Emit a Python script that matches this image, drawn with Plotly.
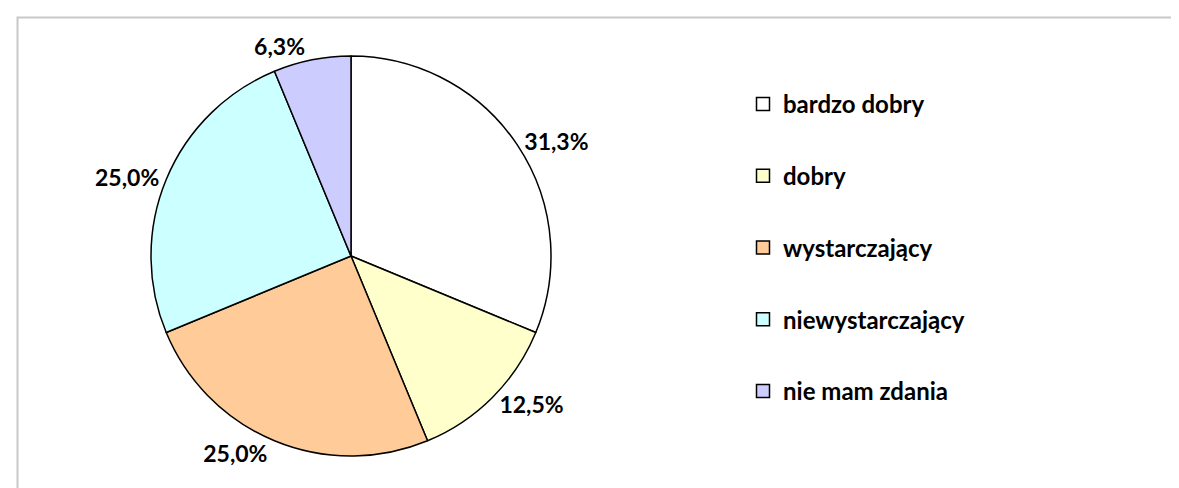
import plotly.graph_objects as go

categories = ["bardzo dobry", "dobry", "wystarczający", "niewystarczający", "nie mam zdania"]
values = [31.25, 12.5, 25.0, 25.0, 6.25]
colors = ["#FFFFFF", "#FFFFCC", "#FFCC99", "#CCFFFF", "#CCCCFF"]

W, H = 1179, 488
FONT = "Lato"

fig = go.Figure()
fig.add_trace(go.Pie(
    labels=categories, values=values, sort=False, direction="clockwise", rotation=0,
    marker=dict(colors=colors, line=dict(color="#000000", width=1.5)),
    textposition="outside", texttemplate="%{percent:.1%}",
    textfont=dict(family=FONT, size=23, color="#000000", weight="bold"),
    showlegend=False, hoverinfo="label+percent",
    domain=dict(x=[143 / W, 543 / W], y=[1 - 448 / H, 1 - 48 / H]),
))
for c, col in zip(categories, colors):
    fig.add_trace(go.Scatter(
        x=[None], y=[None], mode="markers", name=c, legendgroup=c,
        marker=dict(symbol="square", size=13, color=col, line=dict(color="#000000", width=1.5)),
    ))

fig.update_layout(
    width=W, height=H, margin=dict(l=0, r=0, t=0, b=0),
    paper_bgcolor="white", plot_bgcolor="white",
    separators=",.",
    xaxis=dict(visible=False), yaxis=dict(visible=False),
    legend=dict(x=735 / W, y=1 - 74 / H, xanchor="left", yanchor="top",
                font=dict(family=FONT, size=24, color="#000000", weight="bold"),
                tracegroupgap=37.5, bgcolor="rgba(0,0,0,0)"),
    shapes=[dict(type="rect", xref="paper", yref="paper",
                 x0=9.5 / W, x1=1.02, y0=-0.05, y1=1 - 9.5 / H,
                 line=dict(color="#C8C8C8", width=2), layer="below")],
)
fig.write_html("out.html")
